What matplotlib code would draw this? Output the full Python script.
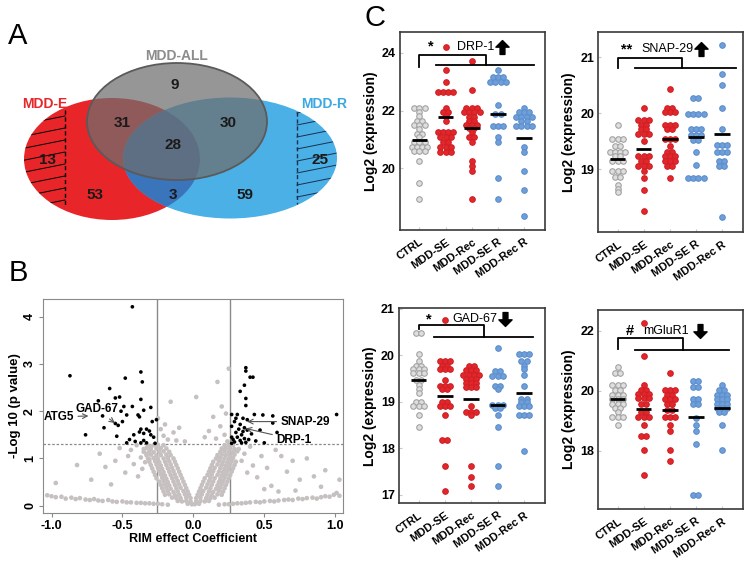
import numpy as np
import matplotlib
matplotlib.use('Agg')
import matplotlib.pyplot as plt
from matplotlib.patches import Ellipse
from matplotlib.path import Path

plt.rcParams['font.family'] = ['Liberation Sans', 'DejaVu Sans']

# ---------------- data ----------------
# A: Venn counts
venn_counts = [13, 53, 31, 9, 28, 3, 30, 59, 25]

# B: volcano plot (RIM effect coefficient, -log10 p)
sig_pts = [(-0.43, 4.21), (-0.87, 2.75), (-0.37, 2.83), (-0.48, 2.70), (-0.36, 2.62), (-0.59, 2.48),
           (-0.55, 2.28), (-0.67, 2.22), (-0.52, 2.30), (-0.37, 2.25), (-0.49, 2.10), (-0.43, 2.10),
           (-0.30, 2.08), (-0.35, 2.02), (-0.51, 2.00), (-0.47, 1.92), (-0.39, 1.92), (-0.38, 1.88),
           (-0.64, 1.90), (-0.26, 1.82), (-0.50, 1.78), (-0.29, 1.78), (-0.55, 1.74), (-0.53, 1.70),
           (-0.63, 1.65), (-0.37, 1.62), (-0.33, 1.62), (-0.38, 1.56), (-0.31, 1.58), (-0.35, 1.53),
           (-0.30, 1.50), (-0.76, 1.50), (-0.42, 1.50), (-0.54, 1.47), (-0.28, 1.45), (-0.45, 1.40),
           (-0.35, 1.38), (-0.41, 1.36), (-0.37, 1.33), (-0.33, 1.33), (-0.47, 1.33), (-0.27, 1.32),
           (0.37, 2.92), (0.37, 2.85), (0.40, 2.72), (0.42, 2.72), (0.36, 2.55), (0.33, 2.42),
           (0.37, 2.27), (0.37, 2.12), (0.27, 1.93), (0.31, 1.93), (0.43, 1.93), (0.49, 1.92),
           (0.56, 1.90), (1.01, 1.93), (0.30, 1.85), (0.35, 1.85), (0.38, 1.82), (0.29, 1.78),
           (0.56, 1.75), (0.33, 1.72), (0.27, 1.68), (0.36, 1.65), (0.32, 1.62), (0.38, 1.60),
           (0.47, 1.60), (0.35, 1.57), (0.30, 1.55), (0.59, 1.55), (0.41, 1.52), (0.34, 1.50),
           (0.27, 1.45), (0.31, 1.45), (0.36, 1.42), (0.28, 1.40), (0.39, 1.40), (0.33, 1.38),
           (0.44, 1.37), (0.29, 1.35), (0.37, 1.34), (0.34, 1.33), (0.50, 1.33), (0.27, 1.32)]

gray_pts = [
    # left arm
    (-0.01, 0.03), (-0.04, 0.04), (-0.02, 0.09), (-0.05, 0.10), (-0.08, 0.09), (-0.11, 0.10),
    (-0.02, 0.16), (-0.05, 0.17), (-0.09, 0.16), (-0.12, 0.16), (-0.15, 0.17),
    (-0.03, 0.23), (-0.06, 0.24), (-0.10, 0.23), (-0.13, 0.22), (-0.17, 0.24), (-0.20, 0.23),
    (-0.04, 0.30), (-0.07, 0.31), (-0.11, 0.30), (-0.14, 0.29), (-0.18, 0.31), (-0.21, 0.30),
    (-0.05, 0.37), (-0.09, 0.38), (-0.12, 0.37), (-0.16, 0.36), (-0.19, 0.38), (-0.22, 0.37),
    (-0.06, 0.44), (-0.10, 0.45), (-0.13, 0.44), (-0.17, 0.43), (-0.20, 0.45), (-0.23, 0.44),
    (-0.07, 0.51), (-0.11, 0.52), (-0.14, 0.51), (-0.18, 0.50), (-0.21, 0.52), (-0.24, 0.51),
    (-0.08, 0.58), (-0.12, 0.59), (-0.15, 0.58), (-0.19, 0.57), (-0.22, 0.59), (-0.26, 0.58),
    (-0.09, 0.65), (-0.13, 0.66), (-0.16, 0.65), (-0.20, 0.64), (-0.23, 0.66), (-0.27, 0.65),
    (-0.10, 0.72), (-0.14, 0.73), (-0.17, 0.72), (-0.21, 0.71), (-0.24, 0.73), (-0.28, 0.72),
    (-0.11, 0.79), (-0.15, 0.80), (-0.18, 0.79), (-0.22, 0.78), (-0.25, 0.80), (-0.29, 0.79),
    (-0.12, 0.86), (-0.16, 0.87), (-0.19, 0.86), (-0.23, 0.85), (-0.26, 0.87), (-0.30, 0.86),
    (-0.13, 0.93), (-0.17, 0.94), (-0.20, 0.93), (-0.24, 0.92), (-0.27, 0.94), (-0.31, 0.93),
    (-0.14, 1.00), (-0.18, 1.01), (-0.21, 1.00), (-0.25, 0.99), (-0.28, 1.01), (-0.32, 1.00),
    (-0.16, 1.07), (-0.19, 1.08), (-0.23, 1.07), (-0.26, 1.06), (-0.30, 1.08), (-0.33, 1.07),
    (-0.17, 1.14), (-0.21, 1.15), (-0.24, 1.14), (-0.28, 1.13), (-0.31, 1.15), (-0.35, 1.14),
    (-0.19, 1.21), (-0.23, 1.22), (-0.26, 1.21), (-0.30, 1.20), (-0.33, 1.22),
    (-0.21, 1.28), (-0.25, 1.29), (-0.28, 1.28), (-0.32, 1.27),
    # right arm
    (0.01, 0.03), (0.04, 0.04), (0.02, 0.09), (0.05, 0.10), (0.08, 0.09), (0.11, 0.10),
    (0.02, 0.16), (0.05, 0.17), (0.09, 0.16), (0.12, 0.16), (0.15, 0.17),
    (0.03, 0.23), (0.06, 0.24), (0.10, 0.23), (0.13, 0.22), (0.17, 0.24), (0.20, 0.23),
    (0.04, 0.30), (0.07, 0.31), (0.11, 0.30), (0.14, 0.29), (0.18, 0.31), (0.21, 0.30),
    (0.05, 0.37), (0.09, 0.38), (0.12, 0.37), (0.16, 0.36), (0.19, 0.38), (0.22, 0.37),
    (0.06, 0.44), (0.10, 0.45), (0.13, 0.44), (0.17, 0.43), (0.20, 0.45), (0.23, 0.44),
    (0.07, 0.51), (0.11, 0.52), (0.14, 0.51), (0.18, 0.50), (0.21, 0.52), (0.24, 0.51),
    (0.08, 0.58), (0.12, 0.59), (0.15, 0.58), (0.19, 0.57), (0.22, 0.59), (0.25, 0.58),
    (0.10, 0.65), (0.13, 0.66), (0.17, 0.65), (0.20, 0.64), (0.23, 0.66), (0.26, 0.65),
    (0.11, 0.72), (0.14, 0.73), (0.18, 0.72), (0.21, 0.71), (0.24, 0.73), (0.27, 0.72),
    (0.12, 0.79), (0.15, 0.80), (0.19, 0.79), (0.22, 0.78), (0.25, 0.80), (0.28, 0.79),
    (0.13, 0.86), (0.17, 0.87), (0.20, 0.86), (0.23, 0.85), (0.26, 0.87), (0.29, 0.86),
    (0.14, 0.93), (0.18, 0.94), (0.21, 0.93), (0.24, 0.92), (0.27, 0.94), (0.30, 0.93),
    (0.16, 1.00), (0.19, 1.01), (0.22, 1.00), (0.25, 0.99), (0.28, 1.01),
    (0.17, 1.07), (0.20, 1.08), (0.23, 1.07), (0.26, 1.06), (0.29, 1.08),
    (0.19, 1.14), (0.22, 1.15), (0.25, 1.14), (0.28, 1.13), (0.31, 1.15),
    (0.20, 1.21), (0.23, 1.22), (0.26, 1.21), (0.29, 1.20),
    (0.22, 1.28), (0.25, 1.29), (0.28, 1.28),
    # bottom band
    (-1.03, 0.22), (-1.00, 0.20), (-0.97, 0.18), (-0.93, 0.19), (-0.90, 0.15), (-0.86, 0.17),
    (-0.83, 0.14), (-0.80, 0.16), (-0.76, 0.13), (-0.73, 0.12), (-0.70, 0.14), (-0.67, 0.11),
    (-0.64, 0.10), (-0.60, 0.12), (-0.57, 0.09), (-0.54, 0.08), (-0.50, 0.09), (-0.47, 0.07),
    (-0.44, 0.07), (-0.40, 0.06), (-0.37, 0.06), (-0.34, 0.05), (-0.31, 0.05), (-0.28, 0.04),
    (-0.25, 0.04), (-0.22, 0.03), (-0.18, 0.02), (0.18, 0.02), (0.22, 0.03),
    (0.25, 0.03), (0.28, 0.04), (0.31, 0.05), (0.34, 0.05), (0.37, 0.06), (0.40, 0.07),
    (0.44, 0.08), (0.47, 0.07), (0.50, 0.09), (0.54, 0.10), (0.57, 0.09), (0.60, 0.11),
    (0.64, 0.12), (0.67, 0.13), (0.70, 0.12), (0.74, 0.15), (0.77, 0.14), (0.80, 0.16),
    (0.84, 0.17), (0.87, 0.15), (0.90, 0.18), (0.93, 0.20), (0.96, 0.19), (0.99, 0.23),
    (1.01, 0.27), (1.03, 0.21),
    # scattered
    (-0.97, 0.48), (-0.82, 0.86), (-0.72, 0.55), (-0.66, 1.10), (-0.62, 0.82), (-0.58, 0.45),
    (-0.55, 0.95), (-0.52, 1.22), (-0.48, 0.70), (-0.46, 1.05), (-0.44, 1.18), (-0.42, 0.88),
    (-0.40, 1.28), (-0.39, 0.62), (-0.37, 1.02), (-0.36, 0.78), (-0.35, 1.20), (-0.34, 0.92),
    (-0.30, 1.25), (-0.33, 1.10), (-0.31, 0.98),
    (-0.25, 1.85), (-0.23, 1.62), (-0.21, 1.48), (-0.20, 1.72), (-0.18, 1.40), (-0.16, 2.20),
    (-0.14, 1.55), (-0.12, 1.38), (-0.10, 1.65), (-0.06, 1.36), (0.02, 2.30), (0.08, 1.45),
    (0.11, 1.58), (0.14, 1.88), (0.16, 1.42), (0.17, 2.62), (0.19, 1.68), (0.20, 2.10),
    (0.22, 1.50), (0.23, 1.95), (0.24, 1.36), (0.25, 2.90),
    (0.32, 1.20), (0.34, 0.95), (0.36, 1.10), (0.38, 0.70), (0.40, 1.25), (0.42, 0.85),
    (0.45, 0.60), (0.48, 1.05), (0.52, 0.80), (0.55, 0.42), (0.58, 1.18), (0.62, 1.05),
    (0.66, 0.72), (0.70, 0.95), (0.75, 0.55), (0.80, 1.00), (0.85, 0.62), (0.90, 0.40),
    (0.93, 0.75), (1.03, 0.55), (0.60, 0.30), (0.72, 0.32), (0.50, 0.35)]

# C: dot plots
groups = ['CTRL', 'MDD-SE', 'MDD-Rec', 'MDD-SE R', 'MDD-Rec R']

drp1 = [
    [22.1, 22.1, 22.1, 21.95, 21.8, 21.65, 21.65, 21.5, 21.5, 21.5, 21.35, 21.2, 21.2, 21.1,
     20.9, 20.9, 20.9, 20.75, 20.75, 20.75, 20.75, 20.6, 20.6, 20.6, 20.25, 19.5, 18.95],
    [24.2, 23.4, 23.0, 22.63, 22.63, 22.63, 22.63, 22.1, 21.94, 21.94, 21.8, 21.64,
     21.27, 21.27, 21.27, 21.27, 21.09, 21.09, 21.09, 20.9, 20.9, 20.73, 20.73, 20.73,
     20.56, 20.56, 20.56],
    [23.71, 22.71, 22.1, 22.1, 22.1, 21.94, 21.94, 21.94, 21.94, 21.79, 21.79, 21.64, 21.64,
     21.5, 21.5, 21.5, 21.4, 21.4, 21.27, 21.09, 21.09, 20.93, 20.26, 20.08, 19.91, 18.94],
    [23.4, 23.17, 23.17, 23.17, 23.0, 23.0, 23.0, 23.0, 22.21, 21.9, 21.9, 21.46, 21.46,
     21.46, 21.09, 20.93, 19.67, 18.94],
    [22.1, 21.94, 21.94, 21.94, 21.79, 21.79, 21.79, 21.79, 21.64, 21.64, 21.46, 21.46,
     21.46, 21.46, 20.73, 20.57, 19.91, 19.27, 18.35]]
drp1_means = [21.0, 21.79, 21.40, 21.88, 21.04]

snap29 = [
    [19.8, 19.54, 19.54, 19.54, 19.42, 19.42, 19.31, 19.31, 19.31, 19.31, 19.24, 19.24,
     19.15, 19.15, 19.15, 18.97, 18.97, 18.97, 18.87, 18.87, 18.72, 18.65, 18.6],
    [20.09, 19.88, 19.88, 19.88, 19.8, 19.8, 19.72, 19.72, 19.63, 19.63, 19.63, 19.51,
     19.24, 19.24, 19.24, 19.15, 19.15, 19.06, 19.06, 19.06, 18.97, 18.85, 18.63, 18.26],
    [20.43, 20.09, 20.09, 20.02, 20.02, 20.02, 19.79, 19.79, 19.79, 19.72, 19.72, 19.54,
     19.54, 19.54, 19.42, 19.31, 19.31, 19.24, 19.24, 19.24, 19.15, 19.15, 19.15, 19.06,
     19.06, 18.85],
    [20.28, 20.28, 19.99, 19.99, 19.99, 19.99, 19.72, 19.72, 19.72, 19.61, 19.61, 19.61,
     19.53, 19.53, 19.31, 19.07, 18.85, 18.85, 18.85, 18.85],
    [21.23, 20.70, 20.50, 20.09, 19.72, 19.43, 19.43, 19.43, 19.31, 19.31, 19.31, 19.15,
     19.15, 19.06, 19.06, 18.14]]
snap29_means = [19.18, 19.37, 19.54, 19.58, 19.64]

gad67 = [
    [20.49, 20.49, 20.02, 19.87, 19.78, 19.78, 19.70, 19.70, 19.70, 19.61, 19.61, 19.61,
     19.46, 19.46, 19.37, 19.28, 19.18, 19.0, 19.0, 18.91, 18.91, 18.91, 18.71, 18.47],
    [20.75, 19.87, 19.87, 19.87, 19.78, 19.78, 19.70, 19.70, 19.70, 19.46, 19.35, 19.35,
     19.35, 19.27, 19.27, 19.0, 19.0, 18.9, 18.9, 18.9, 18.71, 18.17, 18.17, 17.62, 17.08],
    [19.76, 19.76, 19.68, 19.68, 19.68, 19.58, 19.58, 19.58, 19.58, 19.5, 19.5, 19.5,
     19.41, 19.41, 19.41, 19.32, 19.32, 19.32, 18.9, 18.78, 18.78, 18.78, 18.71, 17.62,
     17.38, 17.19],
    [20.16, 19.66, 19.66, 19.56, 19.56, 19.56, 19.35, 19.35, 19.27, 18.94, 18.94, 18.94,
     18.86, 18.86, 18.71, 18.46, 17.62, 17.19],
    [20.02, 20.02, 20.02, 19.87, 19.87, 19.78, 19.70, 19.58, 19.35, 19.07, 19.07, 18.99,
     18.99, 18.9, 18.9, 18.9, 18.71, 18.71, 18.71, 17.94]]
gad67_means = [19.46, 19.13, 19.07, 18.94, 19.2]

mglur1 = [
    [20.78, 20.6, 20.6, 20.19, 20.19, 20.19, 20.02, 20.02, 19.86, 19.86, 19.86, 19.71, 19.71,
     19.71, 19.56, 19.56, 19.56, 19.41, 19.41, 19.28, 19.11, 19.11, 19.11, 18.86],
    [22.27, 21.16, 20.19, 20.02, 20.02, 19.88, 19.88, 19.88, 19.77, 19.77, 19.77, 19.57,
     19.57, 19.3, 19.3, 19.11, 19.11, 19.11, 18.86, 18.49, 18.49, 18.02, 17.19],
    [20.58, 20.02, 20.02, 20.02, 19.86, 19.86, 19.71, 19.71, 19.71, 19.56, 19.56, 19.36,
     19.36, 19.11, 19.11, 19.11, 18.86, 18.67, 18.02, 17.67],
    [20.33, 20.33, 20.14, 20.14, 19.71, 19.71, 19.56, 19.56, 19.1, 18.86, 18.67, 18.24,
     16.52, 16.52],
    [20.19, 20.02, 20.02, 19.86, 19.86, 19.86, 19.71, 19.71, 19.71, 19.56, 19.56, 19.56,
     19.44, 19.44, 19.44, 19.28, 19.28, 18.86, 18.02]]
mglur1_means = [19.71, 19.39, 19.36, 19.11, 19.44]

# ---------------- figure ----------------
fig = plt.figure(figsize=(7.52, 5.67), dpi=100)

# overlay in pixel coordinates for the Venn diagram and panel letters
ov = fig.add_axes([0, 0, 1, 1])
ov.set_xlim(0, 752)
ov.set_ylim(567, 0)
ov.axis('off')

red = Ellipse((112, 159), 176, 122, facecolor='#e8262a', edgecolor='none', zorder=1)
blue = Ellipse((230, 158), 214, 121, facecolor='#4bb0e6', edgecolor='none', zorder=2)
ov.add_patch(red)
ov.add_patch(blue)
overlap = Ellipse((230, 158), 214, 121, facecolor='#3a74ba', edgecolor='none', zorder=3)
ov.add_patch(overlap)
overlap.set_clip_path(red)

for y0 in range(104, 215, 12):
    ln, = ov.plot([20, 65], [y0 + 9, y0], color='black', lw=0.7, zorder=4)
    ln.set_clip_path(red)
    ln2, = ov.plot([297, 342], [y0 + 9, y0], color='#1a3050', lw=0.7, zorder=4)
    ln2.set_clip_path(blue)
ov.plot([65, 65], [110, 206], color='black', lw=1, ls=(0, (3, 2)), zorder=4)
ov.plot([297, 297], [112, 204], color='#1a3050', lw=1, ls=(0, (3, 2)), zorder=4)

ov.add_patch(Ellipse((177, 121.5), 180, 117, facecolor='#6e6e6e', alpha=0.72,
                     edgecolor='none', zorder=5))
ov.add_patch(Ellipse((177, 121.5), 180, 117, facecolor='none', edgecolor='#5a5a5a',
                     lw=1.3, zorder=6))

venn_pos = [(48, 160), (95, 195), (122, 123), (175, 85), (173, 145), (173, 195),
            (228, 123), (245, 195), (320, 160)]
for (px, py), c in zip(venn_pos, venn_counts):
    ov.text(px, py, str(c), ha='center', va='center', fontsize=11, fontweight='bold',
            color='#1a1a1a', zorder=7)
ov.text(177, 56, 'MDD-ALL', ha='center', va='center', fontsize=10, fontweight='bold',
        color='#8c8c8c')
ov.text(45, 104, 'MDD-E', ha='center', va='center', fontsize=10, fontweight='bold',
        color='#e8262a')
ov.text(324, 104, 'MDD-R', ha='center', va='center', fontsize=10, fontweight='bold',
        color='#3ba8e2')

ov.text(8, 36, 'A', fontsize=21, va='center', ha='left')
ov.text(9, 273, 'B', fontsize=21, va='center', ha='left')
ov.text(365, 18, 'C', fontsize=21, va='center', ha='left')

# ---------------- B: volcano ----------------
axb = fig.add_axes([43 / 752, 1 - 513 / 567, 300 / 752, 214 / 567])
g = np.array(gray_pts)
s = np.array(sig_pts)
axb.scatter(g[:, 0], g[:, 1], s=11, color='#c6c0c0', edgecolor='none', zorder=2)
axb.scatter(s[:, 0], s[:, 1], s=7, color='black', edgecolor='none', zorder=3)
axb.axvline(-0.255, color='#8a8a8a', lw=1, zorder=1)
axb.axvline(0.255, color='#8a8a8a', lw=1, zorder=1)
axb.axhline(1.30, color='#8a8a8a', lw=0.9, ls=(0, (2, 1.5)), zorder=1)
axb.set_xlim(-1.06, 1.055)
axb.set_ylim(-0.155, 4.375)
axb.set_xticks([-1.0, -0.5, 0.0, 0.5, 1.0])
axb.set_xticklabels(['-1.0', '-0.5', '0.0', '0.5', '1.0'])
axb.set_yticks([0, 1, 2, 3, 4])
for lab in axb.get_xticklabels() + axb.get_yticklabels():
    lab.set_fontweight('bold')
    lab.set_fontsize(9)
for lab in axb.get_yticklabels():
    lab.set_rotation(90)
    lab.set_va('center')
axb.tick_params(length=3, color='#8a8a8a', pad=2)
for sp in axb.spines.values():
    sp.set_color('#8a8a8a')
axb.set_xlabel('RIM effect Coefficient', fontsize=9, fontweight='bold', labelpad=1)
axb.set_ylabel('-Log 10 (p value)', fontsize=9.5, fontweight='bold', labelpad=2)

arrow_kw = dict(arrowstyle='->', color='#555555', lw=0.8, shrinkA=1, shrinkB=1)
axb.annotate('ATG5', xy=(-0.73, 1.90), xytext=(-0.95, 1.88), ha='center', va='center',
             fontsize=8.5, fontweight='bold', arrowprops=arrow_kw)
axb.annotate('GAD-67', xy=(-0.545, 1.73), xytext=(-0.68, 2.04), ha='center', va='center',
             fontsize=8.5, fontweight='bold', arrowprops=arrow_kw)
axb.annotate('SNAP-29', xy=(0.37, 1.78), xytext=(0.79, 1.78), ha='center', va='center',
             fontsize=8.5, fontweight='bold', arrowprops=arrow_kw)
axb.annotate('DRP-1', xy=(0.36, 1.64), xytext=(0.71, 1.40), ha='center', va='center',
             fontsize=8.5, fontweight='bold', arrowprops=arrow_kw)

# ---------------- C: dot plots ----------------
up_arrow = Path([(-0.35, -1), (0.35, -1), (0.35, 0.05), (0.95, 0.05), (0, 1),
                 (-0.95, 0.05), (-0.35, 0.05), (-0.35, -1)],
                [Path.MOVETO] + [Path.LINETO] * 6 + [Path.CLOSEPOLY])
down_arrow = Path([(x, -y) for x, y in up_arrow.vertices], up_arrow.codes)

styles = [dict(facecolor='#dedede', edgecolor='#a3a3a3'),
          dict(facecolor='#e3262b', edgecolor='#cf2025'),
          dict(facecolor='#e3262b', edgecolor='#cf2025'),
          dict(facecolor='#6e9fd9', edgecolor='#5d8fcd'),
          dict(facecolor='#6e9fd9', edgecolor='#5d8fcd')]


def swarm_x(vals, center, step=0.2):
    vals = np.asarray(vals)
    xs = np.empty(len(vals))
    for v in np.unique(vals):
        idx = np.where(vals == v)[0]
        xs[idx] = center + (np.arange(len(idx)) - (len(idx) - 1) / 2) * step
    return xs


def dot_panel(rect, data, means, ylim, yticks, title, stars, arrow, tx, br):
    ax = fig.add_axes(rect)
    for i, vals in enumerate(data):
        ax.scatter(swarm_x(vals, i), vals, s=16, linewidths=0.8, zorder=3, **styles[i])
        ax.hlines(means[i], i - 0.3, i + 0.3, color='black', lw=2, zorder=4)
    ax.set_xlim(-0.74, 4.8)
    ax.set_ylim(*ylim)
    ax.set_yticks(yticks)
    ax.set_xticks(range(5))
    ax.set_xticklabels(groups, rotation=35, ha='right', rotation_mode='anchor',
                       fontsize=8, fontweight='bold')
    for lab in ax.get_yticklabels():
        lab.set_fontweight('bold')
        lab.set_fontsize(9)
    ax.tick_params(direction='in', length=2, color='#c8c8c8', pad=3)
    ax.tick_params(axis='x', pad=5)
    for sp in ax.spines.values():
        sp.set_color('#3a3a3a')
        sp.set_linewidth(1.2)
    ax.set_ylabel('Log2 (expression)', fontsize=10, fontweight='bold', labelpad=3)
    # significance bracket
    top, ctrl_bot, line, right, l0, l1 = br
    ax.plot([0, 0, right, right], [ctrl_bot, top, top, line], color='black', lw=1.3, zorder=5)
    ax.plot([l0, l1], [line, line], color='black', lw=1.3, zorder=5)
    ty, sx, nx, ax_ = tx
    ax.text(sx, ty, stars, ha='center', va='center', fontsize=10.5, fontweight='bold')
    ax.text(nx, ty, title, ha='center', va='center', fontsize=9)
    ax.plot([ax_], [ty], marker=up_arrow if arrow == 'up' else down_arrow, ms=10,
            color='black', ls='none')
    return ax


dot_panel([400 / 752, 1 - 230 / 567, 145 / 752, 198 / 567], drp1, drp1_means,
          (17.87, 24.72), [20, 22, 24], 'DRP-1', '*', 'up',
          (24.21, 0.45, 2.15, 3.15), (23.94, 23.52, 23.57, 2.53, 0.63, 4.37))
dot_panel([598.3 / 752, 1 - 232.3 / 567, 144.4 / 752, 200 / 567], snap29, snap29_means,
          (17.875, 21.45), [19, 20, 21], 'SNAP-29', '**', 'up',
          (21.15, 0.35, 1.9, 3.2), (20.99, 20.81, 20.81, 2.46, 0.66, 4.56))
dot_panel([399 / 752, 1 - 503.3 / 567, 146 / 752, 195 / 567], gad67, gad67_means,
          (16.82, 21.01), [17, 18, 19, 20, 21], 'GAD-67', '*', 'down',
          (20.77, 0.41, 2.15, 3.3), (20.66, 20.56, 20.40, 2.49, 0.6, 4.36))
dot_panel([598.3 / 752, 1 - 509.3 / 567, 144.4 / 752, 199.3 / 567], mglur1, mglur1_means,
          (16.05, 22.69), [18, 20, 22], 'mGluR1', '#', 'down',
          (22.0, 0.45, 1.85, 3.15), (21.75, 21.38, 21.35, 2.51, 0.66, 4.29))

fig.savefig('out.png', dpi=100)
